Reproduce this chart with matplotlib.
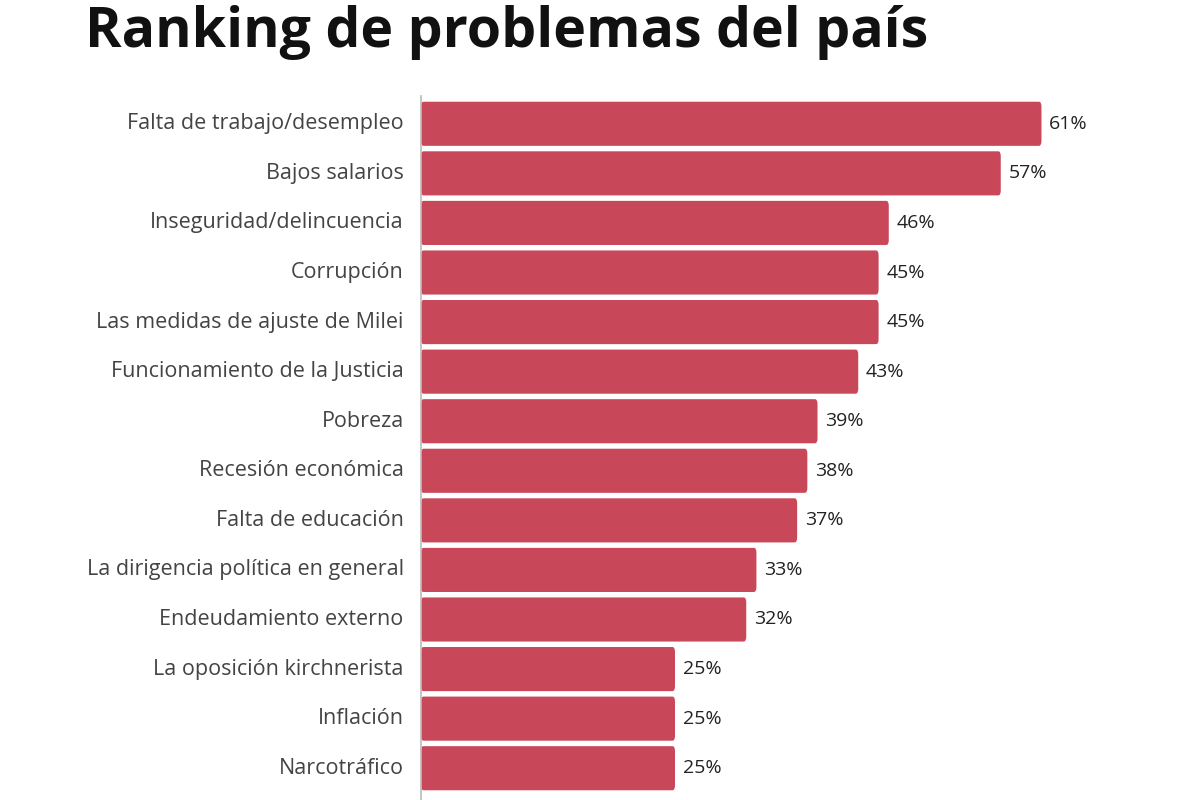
import matplotlib
matplotlib.use("Agg")
import matplotlib.pyplot as plt
from matplotlib.patches import FancyBboxPatch

categories = ["Falta de trabajo/desempleo", "Bajos salarios", "Inseguridad/delincuencia",
              "Corrupción", "Las medidas de ajuste de Milei", "Funcionamiento de la Justicia",
              "Pobreza", "Recesión económica", "Falta de educación",
              "La dirigencia política en general", "Endeudamiento externo",
              "La oposición kirchnerista", "Inflación", "Narcotráfico"]
values = [61, 57, 46, 45, 45, 43, 39, 38, 37, 33, 32, 25, 25, 25]

plt.rcParams['font.family'] = ['Open Sans', 'DejaVu Sans']
W, H = 1200, 800
fig = plt.figure(figsize=(12, 8), dpi=100)
ax = fig.add_axes([421/W, 1-793/H, 763.5/W, 694/H])
n = len(categories)
color = "#C8485A"
for i, (c, v) in enumerate(zip(categories, values)):
    ax.add_patch(FancyBboxPatch((0, i-0.445), v-0.05, 0.89,
                                boxstyle="round,pad=0,rounding_size=0.25",
                                mutation_aspect=0.4, fc=color, ec="none"))
    ax.text(v+0.7, i, f"{v}%", va="center", ha="left", fontsize=14, color="#222222")
    ax.text(-1.7, i, c, va="center", ha="right", fontsize=15.5, color="#444444")
ax.set_xlim(0, 75)
ax.set_ylim(n-0.5, -0.5)
ax.axis("off")
fig.add_artist(plt.Line2D([421/W, 421/W], [0, 1-96/H], color="#bbbbbb", lw=1.2))
fig.text(85/W, 1-32/H, "Ranking de problemas del país", fontsize=40, fontweight="bold",
         color="#111111", va="center", ha="left")
fig.savefig("out.png", dpi=100, facecolor="white")
